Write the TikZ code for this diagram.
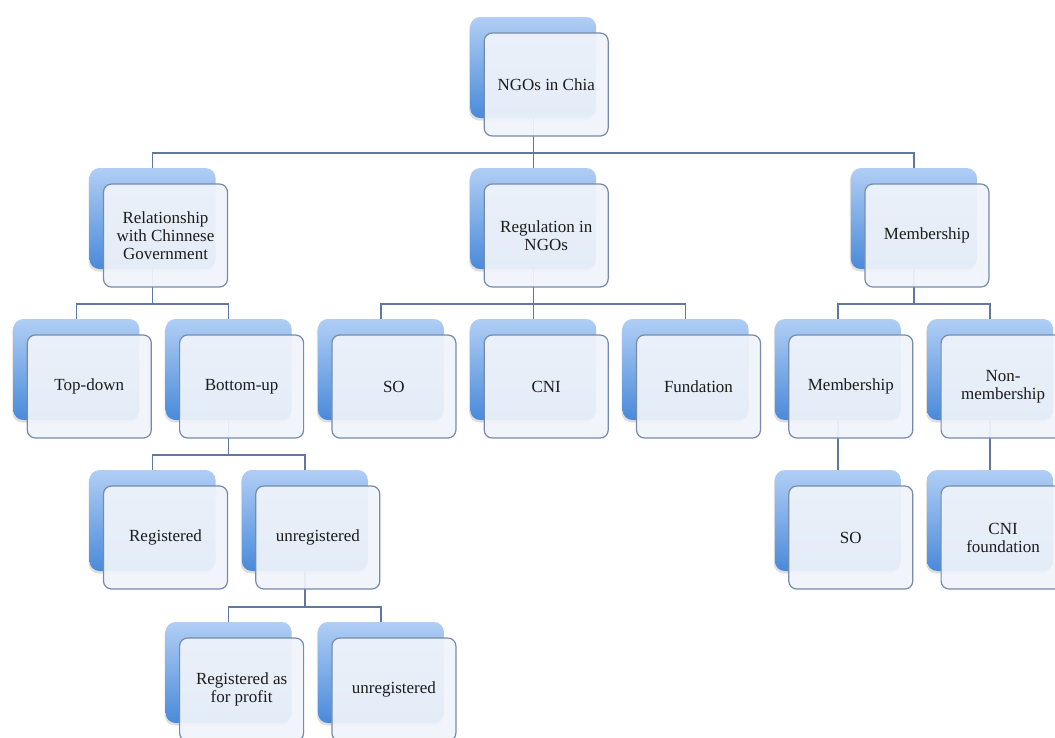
\documentclass[tikz,border=0pt]{standalone}
\usepackage{fontspec}
\setmainfont{Liberation Serif}
\usetikzlibrary{calc,shadows}
\pgfdeclarelayer{background}
\pgfsetlayers{background,main}

\definecolor{backtop}{RGB}{176,206,245}
\definecolor{backbot}{RGB}{74,138,218}
\definecolor{frontfill}{RGB}{240,244,250}
\definecolor{frontline}{RGB}{118,138,172}
\definecolor{connline}{RGB}{96,120,160}
\definecolor{inktext}{RGB}{28,28,28}

\tikzset{
  backbox/.style={rounded corners=10pt, minimum width=126pt, minimum height=101pt,
    inner sep=0pt, top color=backtop, bottom color=backbot, draw=none,
    drop shadow={shadow xshift=-1pt, shadow yshift=-2.5pt, opacity=0.25}},
  frontbox/.style={rounded corners=8pt, minimum width=124pt, minimum height=103pt,
    inner sep=2pt, fill=frontfill, fill opacity=0.93, text opacity=1,
    draw=frontline, line width=1.2pt, align=center, text=inktext,
    font=\fontsize{17}{18}\selectfont},
  conn/.style={draw=connline, line width=1.4pt}
}

% one org-chart entry: blue back card plus offset text card
% #1 name, #2 centre x of back card, #3 top y of back card, #4 text
\newcommand{\orgbox}[4]{%
  \node[backbox] (#1-back) at (#2, #3+50.5) {};
  \node[frontbox] (#1) at (#2+13, #3+67.5) {#4};
  \coordinate (#1-bus) at (#2, #3-15);
}
% elbow connector from a parent's back card to a child's back card
\newcommand{\orglink}[2]{%
  \draw[conn] (#1-back.south) |- (#2-bus) -- (#2-back.north);
}

\begin{document}
\begin{tikzpicture}[x=1pt, y=-1pt]
\useasboundingbox (0,0) rectangle (1055,737);
\clip (0,0) rectangle (1055,737);

% level 0
\orgbox{top}{533.2}{17}{NGOs in Chia}
% level 1
\orgbox{rel}{152.5}{168}{Relationship\\with Chinnese\\Government}
\orgbox{reg}{533.2}{168}{Regulation in\\NGOs}
\orgbox{mem}{913.9}{168}{Membership}
% level 2
\orgbox{td}{76.3}{319}{Top-down}
\orgbox{bu}{228.6}{319}{Bottom-up}
\orgbox{so}{380.9}{319}{SO}
\orgbox{cni}{533.2}{319}{CNI}
\orgbox{fund}{685.5}{319}{Fundation}
\orgbox{memtwo}{837.8}{319}{Membership}
\orgbox{nonmem}{990.1}{319}{Non-\\membership}
% level 3
\orgbox{regd}{152.5}{470}{Registered}
\orgbox{unreg}{304.8}{470}{unregistered}
\orgbox{sotwo}{837.8}{470}{SO}
\orgbox{cnif}{990.1}{470}{CNI\\foundation}
% level 4
\orgbox{prof}{228.6}{622}{Registered as\\for profit}
\orgbox{unregtwo}{380.9}{622}{unregistered}

\begin{pgfonlayer}{background}
  \fill[white] (0,0) rectangle (1055,737);
  \orglink{top}{rel}
  \orglink{top}{reg}
  \orglink{top}{mem}
  \orglink{rel}{td}
  \orglink{rel}{bu}
  \orglink{reg}{so}
  \orglink{reg}{cni}
  \orglink{reg}{fund}
  \orglink{mem}{memtwo}
  \orglink{mem}{nonmem}
  \orglink{bu}{regd}
  \orglink{bu}{unreg}
  \orglink{memtwo}{sotwo}
  \orglink{nonmem}{cnif}
  \orglink{unreg}{prof}
  \orglink{unreg}{unregtwo}
\end{pgfonlayer}
\end{tikzpicture}
\end{document}
